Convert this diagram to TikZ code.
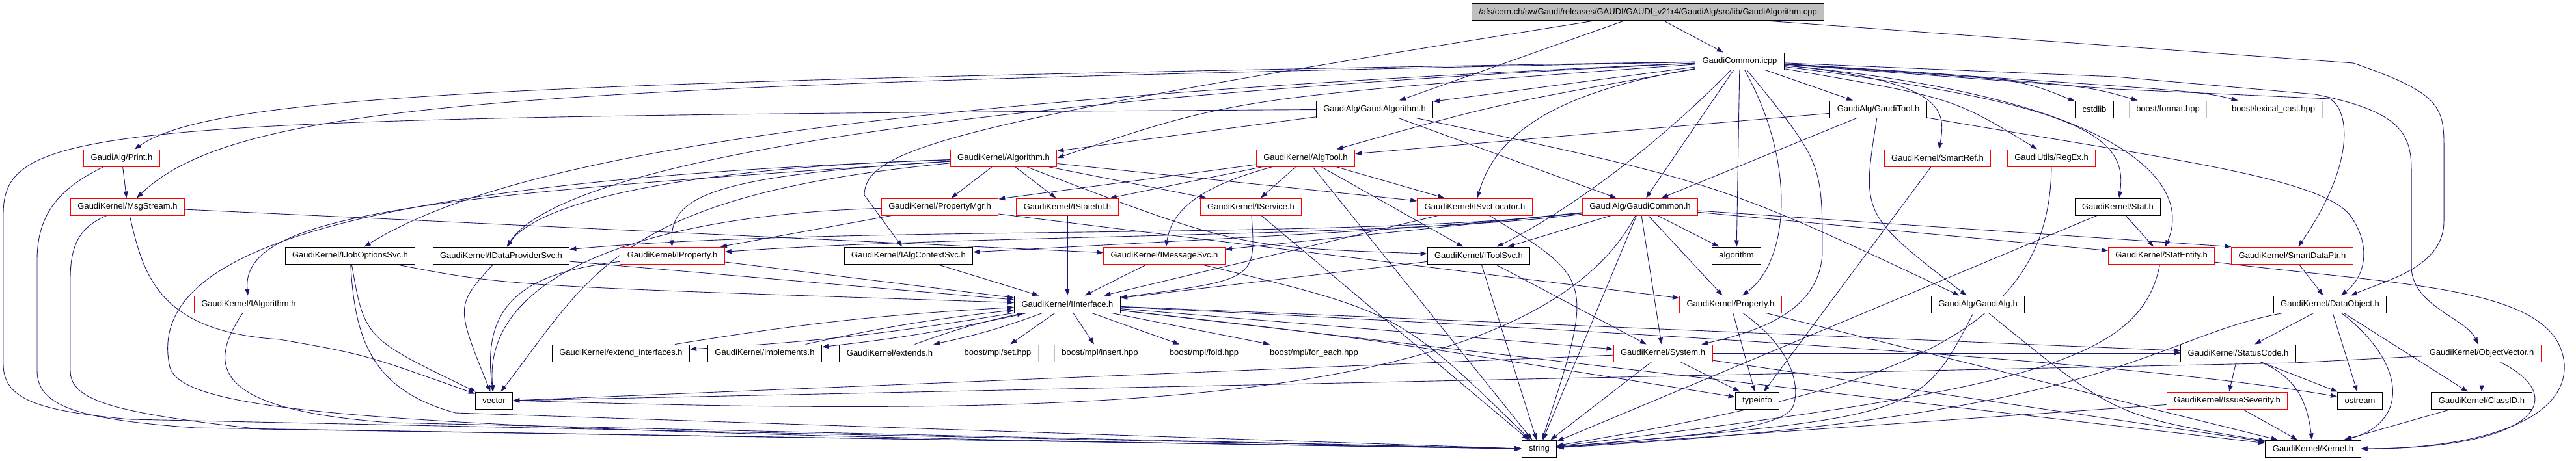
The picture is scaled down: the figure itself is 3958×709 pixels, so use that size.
\documentclass[tikz,border=0pt]{standalone}
\usepackage{fontspec}
\newfontfamily\gvsans{Liberation Sans}
\usetikzlibrary{arrows.meta}
\definecolor{edgeblue}{RGB}{25,25,112}
\definecolor{sysgray}{RGB}{191,191,191}
\pgfdeclarelayer{backlayer}
\pgfdeclarelayer{edgelayer}
\pgfsetlayers{backlayer,edgelayer,main}
\tikzset{
  filebox/.style={rectangle, draw, fill=white, line width=1pt, minimum height=26pt,
    inner xsep=11pt, inner ysep=0pt, font={\gvsans\fontsize{13}{15}\selectfont}},
  redbox/.style={filebox, draw=red},
  plainbox/.style={filebox, draw=black},
  sysbox/.style={filebox, draw=sysgray},
  rootbox/.style={filebox, draw=black, fill=sysgray},
  dep/.style={draw=edgeblue, line width=0.9pt, -{Triangle[length=10pt, width=7pt]}},
}

\begin{document}
\begin{tikzpicture}[x=1pt, y=-1pt]
  \begin{pgfonlayer}{backlayer}
    \fill[white] (0,0) rectangle (3958,709);
  \end{pgfonlayer}
  \useasboundingbox (0,0) rectangle (3958,709);

  % Row 0 and 1
  \node[rootbox] (root) at (2532,19) {/afs/cern.ch/sw/Gaudi/releases/GAUDI/GAUDI\_v21r4/GaudiAlg/src/lib/GaudiAlgorithm.cpp};
  \node[plainbox] (icpp) at (2673,94) {GaudiCommon.icpp};

  % Row 2
  \node[plainbox] (gAlgH) at (2112,168) {GaudiAlg/GaudiAlgorithm.h};
  \node[plainbox] (gTool) at (2886,168) {GaudiAlg/GaudiTool.h};
  \node[plainbox] (cstdlib) at (3218,168) {cstdlib};
  \node[sysbox] (bFormat) at (3331,168) {boost/format.hpp};
  \node[sysbox] (bLexical) at (3493,168) {boost/lexical\_cast.hpp};

  % Row 3
  \node[redbox] (print) at (187,243) {GaudiAlg/Print.h};
  \node[redbox] (algH) at (1542,243) {GaudiKernel/Algorithm.h};
  \node[redbox] (algTool) at (2006,243) {GaudiKernel/AlgTool.h};
  \node[redbox] (smartRef) at (2977,243) {GaudiKernel/SmartRef.h};
  \node[redbox] (regEx) at (3152,243) {GaudiUtils/RegEx.h};

  % Row 4
  \node[redbox] (msgStream) at (196,318) {GaudiKernel/MsgStream.h};
  \node[redbox] (propMgr) at (1444,318) {GaudiKernel/PropertyMgr.h};
  \node[redbox] (iStateful) at (1640,318) {GaudiKernel/IStateful.h};
  \node[redbox] (iService) at (1922,318) {GaudiKernel/IService.h};
  \node[redbox] (svcLoc) at (2266,318) {GaudiKernel/ISvcLocator.h};
  \node[redbox] (gCommonH) at (2520,318) {GaudiAlg/GaudiCommon.h};
  \node[plainbox] (stat) at (3254,318) {GaudiKernel/Stat.h};

  % Row 5
  \node[plainbox] (jobOpt) at (538,393) {GaudiKernel/IJobOptionsSvc.h};
  \node[plainbox] (dataProv) at (770,393) {GaudiKernel/IDataProviderSvc.h};
  \node[redbox] (iProperty) at (1033,393) {GaudiKernel/IProperty.h};
  \node[plainbox] (algCtx) at (1396,393) {GaudiKernel/IAlgContextSvc.h};
  \node[redbox] (msgSvc) at (1789,393) {GaudiKernel/IMessageSvc.h};
  \node[plainbox] (toolSvc) at (2272,393) {GaudiKernel/IToolSvc.h};
  \node[plainbox] (stdAlgo) at (2668,393) {algorithm};
  \node[redbox] (statEntity) at (3321,393) {GaudiKernel/StatEntity.h};
  \node[redbox] (smartData) at (3522,393) {GaudiKernel/SmartDataPtr.h};

  % Row 6
  \node[redbox] (iAlgorithm) at (382,468) {GaudiKernel/IAlgorithm.h};
  \node[plainbox] (iInterface) at (1640,468) {GaudiKernel/IInterface.h};
  \node[redbox] (property) at (2659,468) {GaudiKernel/Property.h};
  \node[plainbox] (gaudiAlgH) at (3039,468) {GaudiAlg/GaudiAlg.h};
  \node[plainbox] (dataObj) at (3580,468) {GaudiKernel/DataObject.h};

  % Row 7
  \node[plainbox] (extInt) at (954,543) {GaudiKernel/extend\_interfaces.h};
  \node[plainbox] (impl) at (1175,543) {GaudiKernel/implements.h};
  \node[plainbox] (extends) at (1367,543) {GaudiKernel/extends.h};
  \node[sysbox] (mplSet) at (1533,543) {boost/mpl/set.hpp};
  \node[sysbox] (mplInsert) at (1690,543) {boost/mpl/insert.hpp};
  \node[sysbox] (mplFold) at (1850,543) {boost/mpl/fold.hpp};
  \node[sysbox] (mplForEach) at (2019,543) {boost/mpl/for\_each.hpp};
  \node[redbox] (system) at (2555,543) {GaudiKernel/System.h};
  \node[plainbox] (statusCode) at (3439,543) {GaudiKernel/StatusCode.h};
  \node[redbox] (objVector) at (3813,543) {GaudiKernel/ObjectVector.h};

  % Row 8 and 9
  \node[plainbox] (stdVector) at (759,616) {vector};
  \node[plainbox] (typeinfo) at (2700,616) {typeinfo};
  \node[redbox] (issueSev) at (3422,616) {GaudiKernel/IssueSeverity.h};
  \node[plainbox] (ostream) at (3626,616) {ostream};
  \node[plainbox] (classID) at (3813,616) {GaudiKernel/ClassID.h};
  \node[plainbox] (stdString) at (2365,690) {string};
  \node[plainbox] (kernel) at (3554,690) {GaudiKernel/Kernel.h};

  \begin{pgfonlayer}{edgelayer}
  % GaudiAlgorithm.cpp
  \draw[dep] (root) -- (icpp);
  \draw[dep] (root) -- (gAlgH);
  \draw[dep] (root) .. controls (1450,190) and (1330,230) .. (1328,300) -- (algCtx);
  \draw[dep] (root) -- (3616,97) .. controls (3740,140) and (3755,160) .. (3755,220) -- (3755,340) .. controls (3755,410) and (3670,430) .. (dataObj);

  % GaudiCommon.icpp
  \draw[dep] (icpp) -- (gAlgH);
  \draw[dep] (icpp) -- (gTool);
  \draw[dep] (icpp) .. controls (3100,120) .. (cstdlib);
  \draw[dep] (icpp) .. controls (3200,130) .. (bFormat);
  \draw[dep] (icpp) .. controls (3380,140) .. (bLexical);
  \draw[dep] (icpp) .. controls (1900,150) .. (algH.east);
  \draw[dep] (icpp) .. controls (2300,160) .. (algTool);
  \draw[dep] (icpp) .. controls (800,125) and (330,145) .. (print);
  \draw[dep] (icpp) .. controls (850,132) and (370,150) .. (msgStream);
  \draw[dep] (icpp) .. controls (1400,150) and (800,230) .. (jobOpt);
  \draw[dep] (icpp) .. controls (1100,170) and (830,300) .. (dataProv);
  \draw[dep] (icpp) .. controls (2400,140) and (2300,200) .. (svcLoc);
  \draw[dep] (icpp) -- (gCommonH);
  \draw[dep] (icpp) .. controls (2990,125) and (2990,170) .. (smartRef);
  \draw[dep] (icpp) .. controls (3000,150) .. (regEx);
  \draw[dep] (icpp) .. controls (3200,160) and (3270,210) .. (stat);
  \draw[dep] (icpp) .. controls (3260,150) and (3370,280) .. (statEntity);
  \draw[dep] (icpp) -- (3250,137) -- (3580,152) .. controls (3610,170) and (3620,250) .. (smartData);
  \draw[dep] (icpp) -- (3250,118) -- (3557,145) .. controls (3680,170) and (3705,200) .. (3705,260) -- (3705,410) .. controls (3705,470) and (3790,490) .. (objVector);
  \draw[dep] (icpp) -- (stdAlgo);
  \draw[dep] (icpp) .. controls (2760,250) and (2750,400) .. (property);
  \draw[dep] (icpp) .. controls (2800,250) .. (2800,390) .. controls (2795,480) and (2700,510) .. (system);
  \draw[dep] (icpp) .. controls (2520,250) and (2380,340) .. (toolSvc);

  % GaudiAlgorithm.h
  \draw[dep] (gAlgH) -- (algH);
  \draw[dep] (gAlgH) -- (gCommonH);
  \draw[dep] (gAlgH) .. controls (2640,280) .. (gaudiAlgH);
  \draw[dep] (gAlgH) .. controls (150,180) and (5,190) .. (5,330) -- (5,560) .. controls (5,615) and (60,632) .. (200,645) -- (stdString.west);

  % Algorithm.h
  \draw[dep] (algH) -- (propMgr);
  \draw[dep] (algH) -- (iStateful);
  \draw[dep] (algH) -- (iService);
  \draw[dep] (algH) -- (svcLoc);
  \draw[dep] (algH) .. controls (650,300) and (370,330) .. (iAlgorithm);
  \draw[dep] (algH) .. controls (1000,260) and (820,320) .. (dataProv);
  \draw[dep] (algH) .. controls (1100,270) and (1030,300) .. (iProperty);
  \draw[dep] (algH) .. controls (1900,380) .. (toolSvc);
  \draw[dep] (algH) .. controls (950,300) and (910,420) .. (stdVector);
  \draw[dep] (algH) .. controls (480,280) and (230,400) .. (260,560) .. controls (270,640) and (600,665) .. (stdString.west);

  % PropertyMgr.h, IStateful.h, IService.h
  \draw[dep] (propMgr) -- (iProperty);
  \draw[dep] (propMgr) -- (property);
  \draw[dep] (propMgr) .. controls (1000,330) and (740,420) .. (stdVector);
  \draw[dep] (iStateful) -- (iInterface);
  \draw[dep] (iService) .. controls (1930,430) .. (iInterface);
  \draw[dep] (iService) -- (stdString);

  % AlgTool.h
  \draw[dep] (algTool) -- (propMgr);
  \draw[dep] (algTool) -- (iStateful);
  \draw[dep] (algTool) -- (iService);
  \draw[dep] (algTool) -- (svcLoc);
  \draw[dep] (algTool) .. controls (1830,290) and (1800,330) .. (msgSvc);
  \draw[dep] (algTool) -- (toolSvc);
  \draw[dep] (algTool) -- (stdString);

  % ISvcLocator.h
  \draw[dep] (svcLoc) -- (iInterface);
  \draw[dep] (svcLoc) .. controls (2450,430) .. (stdString);

  % GaudiCommon.h
  \draw[dep] (gCommonH) .. controls (2050,370) and (1300,345) .. (dataProv);
  \draw[dep] (gCommonH) .. controls (2150,365) and (1500,360) .. (iProperty);
  \draw[dep] (gCommonH) -- (msgSvc);
  \draw[dep] (gCommonH) .. controls (2200,350) .. (algCtx);
  \draw[dep] (gCommonH) -- (toolSvc);
  \draw[dep] (gCommonH) -- (stdAlgo);
  \draw[dep] (gCommonH) -- (property);
  \draw[dep] (gCommonH) -- (system);
  \draw[dep] (gCommonH) -- (statEntity);
  \draw[dep] (gCommonH) -- (smartData.north west);
  \draw[dep] (gCommonH) .. controls (2350,640) and (1600,640) .. (stdVector.east);
  \draw[dep] (gCommonH) -- (stdString);

  % GaudiTool.h
  \draw[dep] (gTool) -- (algTool);
  \draw[dep] (gTool) -- (gCommonH);
  \draw[dep] (gTool) .. controls (2860,330) .. (gaudiAlgH);
  \draw[dep] (gTool) .. controls (3300,240) and (3560,270) .. (3610,330) .. controls (3640,370) and (3640,420) .. (dataObj);

  % Print.h, MsgStream.h
  \draw[dep] (print) -- (msgStream);
  \draw[dep] (print) .. controls (90,290) and (57,330) .. (57,400) -- (57,570) .. controls (57,625) and (120,645) .. (300,658) -- (stdString.west);
  \draw[dep] (msgStream) -- (msgSvc);
  \draw[dep] (msgStream) .. controls (120,350) and (108,380) .. (108,430) -- (108,570) .. controls (108,615) and (170,635) .. (400,660) -- (stdString.west);
  \draw[dep] (msgStream) .. controls (220,420) and (240,510) .. (430,522) .. controls (560,545) .. (stdVector);

  % IJobOptionsSvc.h, IAlgorithm.h
  \draw[dep] (jobOpt) .. controls (780,440) .. (iInterface);
  \draw[dep] (jobOpt) .. controls (560,520) .. (stdVector);
  \draw[dep] (jobOpt) .. controls (545,520) and (570,600) .. (700,635) -- (stdString.west);
  \draw[dep] (iAlgorithm) .. controls (320,560) and (320,630) .. (600,650) -- (stdString.west);

  % interfaces of row 5
  \draw[dep] (dataProv) -- (iInterface);
  \draw[dep] (dataProv) .. controls (700,470) .. (stdVector);
  \draw[dep] (iProperty) -- (iInterface);
  \draw[dep] (iProperty) .. controls (800,420) and (740,470) .. (stdVector);
  \draw[dep] (algCtx) -- (iInterface);
  \draw[dep] (msgSvc) -- (iInterface);
  \draw[dep] (msgSvc) .. controls (2150,480) .. (stdString);
  \draw[dep] (toolSvc) -- (iInterface);
  \draw[dep] (toolSvc) -- (system);
  \draw[dep] (toolSvc) -- (stdString);
  \draw[dep] (stat) -- (statEntity);
  \draw[dep] (stat) -- (stdString);
  \draw[dep] (statEntity) .. controls (3290,560) and (3100,600) .. (stdString);
  \draw[dep] (statEntity) .. controls (3700,440) and (3930,440) .. (3940,560) .. controls (3945,650) and (3800,690) .. (kernel);
  \draw[dep] (smartData) -- (dataObj);
  \draw[dep] (smartRef) -- (typeinfo);
  \draw[dep] (regEx) .. controls (3150,520) and (2900,600) .. (stdString);

  % row 6
  \draw[dep] (property) -- (typeinfo);
  \draw[dep] (property) .. controls (2760,540) and (2765,600) .. (2755,625) .. controls (2740,660) and (2600,670) .. (stdString);
  \draw[dep] (property) -- (kernel);
  \draw[dep] (gaudiAlgH) .. controls (3250,640) .. (kernel);
  \draw[dep] (gaudiAlgH) .. controls (2950,640) .. (stdString);
  \draw[dep] (dataObj) -- (statusCode);
  \draw[dep] (dataObj) -- (ostream);
  \draw[dep] (dataObj) -- (classID);
  \draw[dep] (dataObj) .. controls (3700,560) and (3700,650) .. (kernel);
  \draw[dep] (dataObj) .. controls (3300,520) and (3260,640) .. (stdString);

  % IInterface.h
  \draw[dep] (iInterface) to[bend left=3] (extInt);
  \draw[dep] (extInt) to[bend left=3] (iInterface);
  \draw[dep] (iInterface) to[bend left=3] (impl);
  \draw[dep] (impl) to[bend left=3] (iInterface);
  \draw[dep] (iInterface) to[bend left=4] (extends);
  \draw[dep] (extends) to[bend left=4] (iInterface);
  \draw[dep] (iInterface) -- (mplSet);
  \draw[dep] (iInterface) -- (mplInsert);
  \draw[dep] (iInterface) -- (mplFold);
  \draw[dep] (iInterface) -- (mplForEach);
  \draw[dep] (iInterface) -- (system);
  \draw[dep] (iInterface) -- (statusCode);
  \draw[dep] (iInterface) -- (kernel);
  \draw[dep] (iInterface) .. controls (2100,520) .. (typeinfo);
  \draw[dep] (iInterface) .. controls (2700,520) and (3300,560) .. (ostream);

  % row 7 and 8
  \draw[dep] (system) -- (stdString);
  \draw[dep] (system) -- (typeinfo);
  \draw[dep] (system) -- (kernel);
  \draw[dep] (system) -- (statusCode);
  \draw[dep] (system) -- (stdVector.east);
  \draw[dep] (statusCode) -- (issueSev);
  \draw[dep] (statusCode) -- (ostream);
  \draw[dep] (statusCode) .. controls (3530,580) and (3545,620) .. (kernel);
  \draw[dep] (objVector) -- (classID);
  \draw[dep] (objVector) .. controls (3950,610) and (3900,690) .. (kernel);
  \draw[dep] (objVector) -- (3525,558) -- (stdVector.east);
  \draw[dep] (issueSev) -- (kernel);
  \draw[dep] (issueSev) -- (stdString);
  \draw[dep] (classID) -- (kernel);
  \end{pgfonlayer}
\end{tikzpicture}
\end{document}
